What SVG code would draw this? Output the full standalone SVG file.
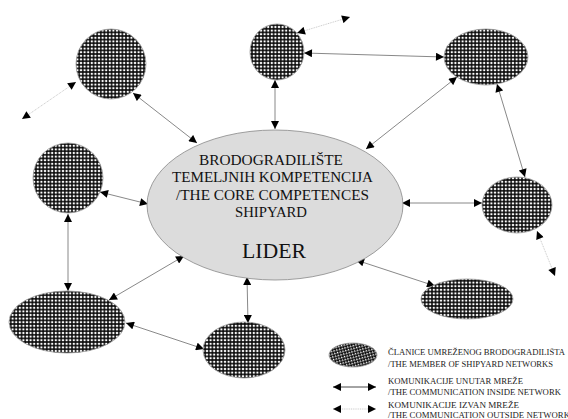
<svg xmlns="http://www.w3.org/2000/svg" width="568" height="419" viewBox="0 0 568 419">
<style>
.m{fill:url(#chk);stroke:#999;stroke-width:0.8}
.ml{fill:url(#chk2);stroke:#999;stroke-width:0.8}
.c{fill:#dcdcdc;stroke:#888;stroke-width:0.8}
.in{stroke:#7a7a7a;stroke-width:0.9;fill:none;marker-start:url(#ah);marker-end:url(#ah)}
.out{stroke:#c4c4c4;stroke-width:0.9;stroke-dasharray:1 0.8;fill:none;marker-start:url(#ah);marker-end:url(#ah)}
.t{font-family:"Liberation Serif","Times New Roman",serif;fill:#111;text-anchor:middle}
.lg{font-family:"Liberation Serif","Times New Roman",serif;fill:#222;font-size:8.5px}
</style>
<defs>
<pattern id="chk" width="3.6" height="3.6" patternUnits="userSpaceOnUse">
<rect width="3.6" height="3.6" fill="#0d0d0d"/>
<circle cx="1.8" cy="1.8" r="1.2" fill="#fff"/>
</pattern>
<pattern id="chk2" width="4" height="4" patternUnits="userSpaceOnUse" patternTransform="rotate(30)">
<rect width="4" height="4" fill="#111"/>
<rect x="0" y="0" width="1.5" height="1.5" fill="#fff"/>
<rect x="2" y="2" width="1.5" height="1.5" fill="#fff"/>
</pattern>
<marker id="ah" viewBox="0 0 10 10" refX="10" refY="5" markerWidth="9" markerHeight="8" markerUnits="userSpaceOnUse" orient="auto-start-reverse">
<path d="M0,0 L10,5 L0,10 z" fill="#000"/>
</marker>
</defs>

<g id="connectors">
<line class="in" x1="133" y1="93" x2="197" y2="143"/>
<line class="out" x1="76" y1="82" x2="22" y2="119"/>
<line class="in" x1="275" y1="80" x2="275" y2="129"/>
<line class="in" x1="304" y1="53" x2="444" y2="57"/>
<line class="out" x1="297" y1="33" x2="350" y2="17"/>
<line class="in" x1="457" y1="77" x2="366" y2="149"/>
<line class="in" x1="497" y1="84" x2="525" y2="177"/>
<line class="in" x1="402" y1="203" x2="482" y2="203"/>
<line class="out" x1="537" y1="231" x2="555" y2="276"/>
<line class="in" x1="100" y1="192" x2="148" y2="204"/>
<line class="in" x1="68" y1="214" x2="68" y2="291"/>
<line class="in" x1="109" y1="300" x2="184" y2="256"/>
<line class="in" x1="126" y1="323" x2="204" y2="349"/>
<line class="in" x1="247" y1="277" x2="248" y2="323"/>
<line class="in" x1="356" y1="260" x2="435" y2="286"/>
</g>

<g id="center">
<ellipse class="c" cx="275" cy="205" rx="128" ry="75"/>
<text class="t" x="271" y="165" font-size="15" textLength="144" lengthAdjust="spacingAndGlyphs">BRODOGRADILIŠTE</text>
<text class="t" x="272.5" y="182" font-size="15" textLength="201" lengthAdjust="spacingAndGlyphs">TEMELJNIH KOMPETENCIJA</text>
<text class="t" x="272.5" y="200" font-size="15" textLength="193" lengthAdjust="spacingAndGlyphs">/THE CORE COMPETENCES</text>
<text class="t" x="271" y="217" font-size="15" textLength="72" lengthAdjust="spacingAndGlyphs">SHIPYARD</text>
<text class="t" x="274" y="258" font-size="22" textLength="64" lengthAdjust="spacingAndGlyphs">LIDER</text>
</g>

<g id="n1"><ellipse class="m" cx="111" cy="64" rx="35" ry="35"/></g>
<g id="n2"><ellipse class="m" cx="277" cy="52" rx="27" ry="28"/></g>
<g id="n3"><ellipse class="m" cx="486" cy="57" rx="42" ry="28"/></g>
<g id="n4"><ellipse class="m" cx="517" cy="205" rx="35" ry="28"/></g>
<g id="n5"><ellipse class="m" cx="68" cy="178" rx="35" ry="35"/></g>
<g id="n6"><ellipse class="m" cx="67" cy="322" rx="58" ry="31"/></g>
<g id="n7"><ellipse class="m" cx="244" cy="350" rx="41" ry="28"/></g>
<g id="n8"><ellipse class="m" cx="467" cy="299" rx="46" ry="20"/></g>

<g id="legend">
<ellipse class="ml" cx="353" cy="355" rx="24" ry="12"/>
<text class="lg" x="388" y="355" textLength="177" lengthAdjust="spacingAndGlyphs">ČLANICE UMREŽENOG BRODOGRADILIŠTA</text>
<text class="lg" x="388" y="367" textLength="165" lengthAdjust="spacingAndGlyphs">/THE MEMBER OF SHIPYARD NETWORKS</text>
<line class="in" x1="333" y1="387" x2="376" y2="387" style="stroke:#333"/>
<text class="lg" x="388" y="384" textLength="135" lengthAdjust="spacingAndGlyphs">KOMUNIKACIJE UNUTAR MREŽE</text>
<text class="lg" x="388" y="395" textLength="173" lengthAdjust="spacingAndGlyphs">/THE COMMUNICATION INSIDE NETWORK</text>
<line class="out" x1="333" y1="409" x2="376" y2="409"/>
<text class="lg" x="388" y="408" textLength="131" lengthAdjust="spacingAndGlyphs">KOMUNIKACIJE IZVAN MREŽE</text>
<text class="lg" x="388" y="418" textLength="182" lengthAdjust="spacingAndGlyphs">/THE COMMUNICATION OUTSIDE NETWORK</text>
</g>
</svg>
